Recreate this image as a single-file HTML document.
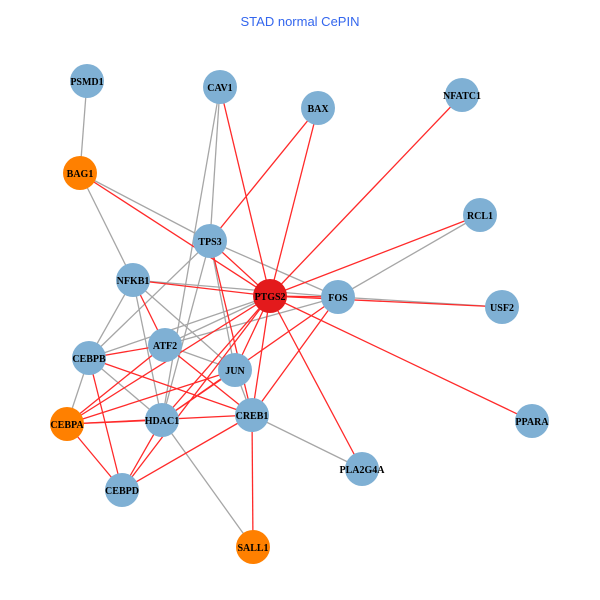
<!DOCTYPE html>
<html><head><style>body{margin:0;background:#fff}svg{display:block}</style></head><body>
<svg width="600" height="600" xmlns="http://www.w3.org/2000/svg">
<text x="300" y="26" text-anchor="middle" font-family="Liberation Sans, sans-serif" font-size="13" fill="#3366ee">STAD normal CePIN</text>
<g stroke="#a6a6a6" stroke-width="1.3">
<line x1="87" y1="81" x2="80" y2="173"/>
<line x1="220" y1="87" x2="210" y2="241"/>
<line x1="220" y1="87" x2="162" y2="420"/>
<line x1="80" y1="173" x2="210" y2="241"/>
<line x1="80" y1="173" x2="133" y2="280"/>
<line x1="210" y1="241" x2="89" y2="358"/>
<line x1="210" y1="241" x2="162" y2="420"/>
<line x1="210" y1="241" x2="235" y2="370"/>
<line x1="210" y1="241" x2="338" y2="297"/>
<line x1="133" y1="280" x2="89" y2="358"/>
<line x1="133" y1="280" x2="338" y2="297"/>
<line x1="133" y1="280" x2="162" y2="420"/>
<line x1="133" y1="280" x2="235" y2="370"/>
<line x1="89" y1="358" x2="270" y2="296"/>
<line x1="89" y1="358" x2="67" y2="424"/>
<line x1="89" y1="358" x2="162" y2="420"/>
<line x1="165" y1="345" x2="235" y2="370"/>
<line x1="165" y1="345" x2="270" y2="296"/>
<line x1="165" y1="345" x2="338" y2="297"/>
<line x1="162" y1="420" x2="253" y2="547"/>
<line x1="252" y1="415" x2="362" y2="469"/>
<line x1="235" y1="370" x2="252" y2="415"/>
<line x1="338" y1="297" x2="480" y2="215"/>
<line x1="338" y1="297" x2="502" y2="307"/>
</g>
<g stroke="#ff2a2a" stroke-width="1.3">
<line x1="80" y1="173" x2="270" y2="296"/>
<line x1="133" y1="280" x2="270" y2="296"/>
<line x1="133" y1="280" x2="165" y2="345"/>
<line x1="89" y1="358" x2="165" y2="345"/>
<line x1="89" y1="358" x2="122" y2="490"/>
<line x1="89" y1="358" x2="252" y2="415"/>
<line x1="165" y1="345" x2="252" y2="415"/>
<line x1="165" y1="345" x2="67" y2="424"/>
<line x1="67" y1="424" x2="162" y2="420"/>
<line x1="67" y1="424" x2="252" y2="415"/>
<line x1="67" y1="424" x2="270" y2="296"/>
<line x1="67" y1="424" x2="235" y2="370"/>
<line x1="67" y1="424" x2="122" y2="490"/>
<line x1="162" y1="420" x2="270" y2="296"/>
<line x1="162" y1="420" x2="235" y2="370"/>
<line x1="162" y1="420" x2="122" y2="490"/>
<line x1="162" y1="420" x2="338" y2="297"/>
<line x1="122" y1="490" x2="270" y2="296"/>
<line x1="122" y1="490" x2="252" y2="415"/>
<line x1="252" y1="415" x2="270" y2="296"/>
<line x1="252" y1="415" x2="338" y2="297"/>
<line x1="252" y1="415" x2="253" y2="547"/>
<line x1="252" y1="415" x2="210" y2="241"/>
<line x1="235" y1="370" x2="270" y2="296"/>
<line x1="270" y1="296" x2="338" y2="297"/>
<line x1="270" y1="296" x2="502" y2="307"/>
<line x1="270" y1="296" x2="480" y2="215"/>
<line x1="270" y1="296" x2="462" y2="95"/>
<line x1="270" y1="296" x2="318" y2="108"/>
<line x1="270" y1="296" x2="220" y2="87"/>
<line x1="270" y1="296" x2="532" y2="421"/>
<line x1="270" y1="296" x2="362" y2="469"/>
<line x1="270" y1="296" x2="210" y2="241"/>
<line x1="210" y1="241" x2="318" y2="108"/>
</g>
<g font-family="Liberation Serif, serif" font-size="10" font-weight="bold" text-anchor="middle" fill="#000">
<g fill="#7fb0d4">
<circle cx="87" cy="81" r="17"/><circle cx="220" cy="87" r="17"/><circle cx="318" cy="108" r="17"/><circle cx="462" cy="95" r="17"/>
<circle cx="480" cy="215" r="17"/><circle cx="210" cy="241" r="17"/><circle cx="133" cy="280" r="17"/><circle cx="338" cy="297" r="17"/>
<circle cx="502" cy="307" r="17"/><circle cx="89" cy="358" r="17"/><circle cx="165" cy="345" r="17"/><circle cx="235" cy="370" r="17"/>
<circle cx="162" cy="420" r="17"/><circle cx="252" cy="415" r="17"/><circle cx="532" cy="421" r="17"/><circle cx="362" cy="469" r="17"/>
<circle cx="122" cy="490" r="17"/>
</g>
<g fill="#ff8000"><circle cx="80" cy="173" r="17"/><circle cx="67" cy="424" r="17"/><circle cx="253" cy="547" r="17"/></g>
<circle cx="270" cy="296" r="17" fill="#e31a1c"/>
<text x="87" y="85">PSMD1</text><text x="220" y="91">CAV1</text><text x="318" y="112">BAX</text><text x="462" y="99">NFATC1</text>
<text x="80" y="177">BAG1</text><text x="480" y="219">RCL1</text><text x="210" y="245">TPS3</text><text x="133" y="284">NFKB1</text>
<text x="270" y="300">PTGS2</text><text x="338" y="301">FOS</text><text x="502" y="311">USF2</text><text x="89" y="362">CEBPB</text>
<text x="165" y="349">ATF2</text><text x="235" y="374">JUN</text><text x="67" y="428">CEBPA</text><text x="162" y="424">HDAC1</text>
<text x="252" y="419">CREB1</text><text x="532" y="425">PPARA</text><text x="362" y="473">PLA2G4A</text><text x="122" y="494">CEBPD</text>
<text x="253" y="551">SALL1</text>
</g>
</svg>
</body></html>
